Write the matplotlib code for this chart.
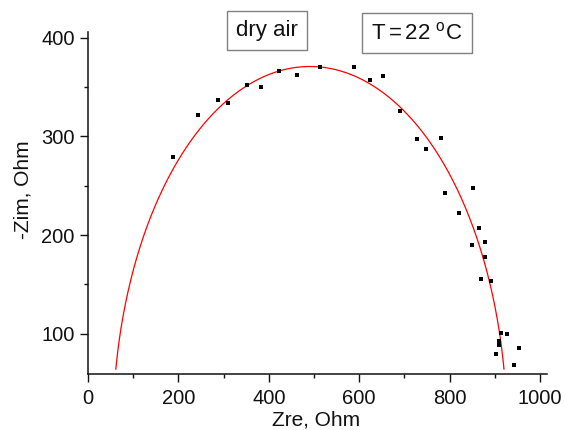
import numpy as np
import matplotlib
matplotlib.use("Agg")
import matplotlib.pyplot as plt
from matplotlib.ticker import MultipleLocator

plt.rcParams['font.family'] = ['Liberation Sans', 'DejaVu Sans']

# measured impedance points (Zre, -Zim), Ohm
zre = [188, 243, 288, 309, 352, 383, 423, 462, 513, 589, 623, 653, 690,
       727, 749, 782, 789, 821, 853, 850, 865, 879, 878, 869, 892, 914,
       927, 909, 909, 902, 953, 942]
zim = [279, 322, 337, 334, 352, 350, 366, 362, 370, 370, 357, 361, 326,
       297, 287, 298, 243, 222, 248, 190, 207, 193, 178, 155, 153, 101,
       100, 92, 88, 79, 85, 68]

# fitted arc (centre, semi-axes, lowest drawn point)
fit_xc = 491.0
fit_yc = 0.0
fit_a = 436.0
fit_b = 371.0
fit_ymin = 64.0

fig = plt.figure(figsize=(5.65, 4.30), dpi=100)
ax = fig.add_axes([0.1558, 0.1302, 0.9676 - 0.1558, 0.9256 - 0.1302])

# fit curve
t0 = np.arcsin((fit_ymin - fit_yc) / fit_b)
t = np.linspace(t0, np.pi - t0, 400)
ax.plot(fit_xc + fit_a * np.cos(t), fit_yc + fit_b * np.sin(t),
        color='red', lw=0.9, zorder=2)

ax.plot(zre, zim, 's', color='black', ms=3.2, mew=0, zorder=3)

ax.set_xlim(0, 1015)
ax.set_ylim(59, 406)
ax.xaxis.set_major_locator(MultipleLocator(200))
ax.xaxis.set_minor_locator(MultipleLocator(100))
ax.yaxis.set_major_locator(MultipleLocator(100))
ax.yaxis.set_minor_locator(MultipleLocator(50))

for s in ['top', 'right']:
    ax.spines[s].set_visible(False)
for s in ['left', 'bottom']:
    ax.spines[s].set_linewidth(1.1)
    ax.spines[s].set_color('#111111')

ax.tick_params(which='major', direction='out', length=5.5, width=1.0,
               labelsize=14.5, colors='#111111', pad=4)
ax.tick_params(which='minor', direction='out', length=3, width=1.0,
               colors='#111111')
ax.tick_params(axis='x', which='major', pad=5)

fig.text(316 / 565, 1 - 425 / 430, 'Zre, Ohm', ha='center', va='baseline',
         fontsize=15, color='#111111')
fig.text(23 / 565, 1 - 190 / 430, '-Zim, Ohm', ha='center', va='center',
         rotation=90, fontsize=15, color='#111111')

box = dict(boxstyle='square,pad=0.4', fc='white', ec='#808080', lw=1.0)
fig.text(267 / 565, 1 - 30.5 / 430, 'dry air', ha='center', va='center',
         fontsize=16, color='#111111', bbox=box)
fig.text(417 / 565, 1 - 33 / 430,
         r'T$\,$=$\,$22 $^{\mathregular{o}}$C',
         ha='center', va='center', fontsize=16, color='#111111', bbox=box)

fig.savefig('out.png', dpi=100)
